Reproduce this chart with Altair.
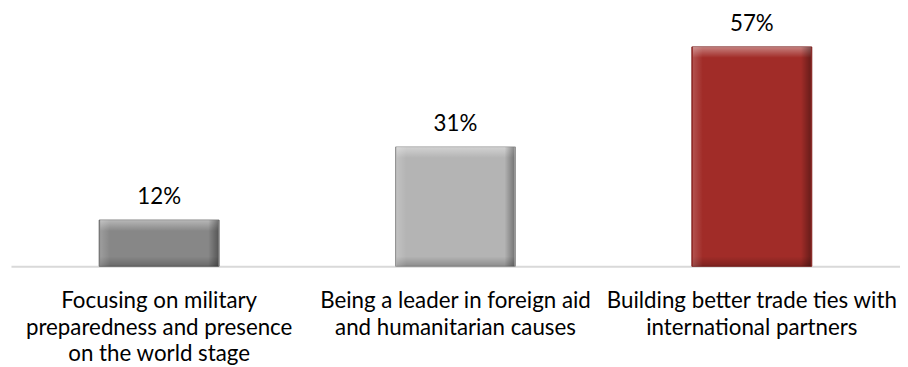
import altair as alt
import pandas as pd

categories = [
    "Focusing on military|preparedness and presence|on the world stage",
    "Being a leader in foreign aid|and humanitarian causes",
    "Building better trade ties with|international partners",
]
values = [12, 31, 57]
labels = ["12%", "31%", "57%"]
fills = ["#878787", "#b4b4b4", "#a12c28"]
strokes = ["#666666", "#939393", "#7a1e1b"]

df = pd.DataFrame({"cat": categories, "value": values, "label": labels, "zero": [0, 0, 0]})

FONT = "Lato"


def grad(x2, y2, c0, c1):
    return alt.Gradient(gradient="linear", x1=0, y1=0, x2=x2, y2=y2,
                        stops=[alt.GradientStop(offset=0, color=c0),
                               alt.GradientStop(offset=1, color=c1)])


x = alt.X("cat:N", sort=categories,
          scale=alt.Scale(paddingInner=0, paddingOuter=0),
          axis=alt.Axis(title=None, labelAngle=0, ticks=False, labelPadding=24,
                        labelExpr="split(datum.label, '|')",
                        labelFont=FONT, labelFontSize=22.5, labelColor="#000000",
                        labelLineHeight=26.7, labelLimit=400,
                        domainColor="#d9d9d9", domainWidth=2))
y = alt.Y("value:Q", scale=alt.Scale(domain=[0, 60]), axis=None)

base = alt.Chart(df)

bars = base.mark_bar(size=121, strokeWidth=1).encode(
    x=x, y=y, y2="zero:Q",
    fill=alt.Fill("cat:N", sort=categories, scale=alt.Scale(domain=categories, range=fills), legend=None),
    stroke=alt.Stroke("cat:N", sort=categories, scale=alt.Scale(domain=categories, range=strokes), legend=None),
)

top = base.mark_bar(size=119, y2Offset=11,
                    color=grad(0, 1, "rgba(255,255,255,0.40)", "rgba(255,255,255,0.0)")).encode(
    x=x, y=y, y2="value:Q")
bottom = base.mark_bar(size=119, yOffset=-10,
                       color=grad(0, 1, "rgba(0,0,0,0.0)", "rgba(0,0,0,0.22)")).encode(
    x=x, y=alt.Y("zero:Q", axis=None), y2="zero:Q")
left = base.mark_bar(size=10, xOffset=-54.5,
                     color=grad(1, 0, "rgba(255,255,255,0.18)", "rgba(255,255,255,0.0)")).encode(
    x=x, y=y, y2="zero:Q")
right = base.mark_bar(size=10, xOffset=54.5,
                      color=grad(1, 0, "rgba(0,0,0,0.0)", "rgba(0,0,0,0.35)")).encode(
    x=x, y=y, y2="zero:Q")

text = base.mark_text(font=FONT, fontSize=22.5, dy=-16, baseline="alphabetic", color="#000000").encode(
    x=x, y=y, text="label:N")

chart = alt.layer(bars, top, bottom, left, right, text).properties(
    width=897, height=233,
    autosize=alt.AutoSizeParams(type="none"),
    padding={"left": 3, "top": 26, "right": 0, "bottom": 100},
).configure_view(stroke=None)

chart.save("out.html", embed_options={"renderer": "svg", "actions": False})
